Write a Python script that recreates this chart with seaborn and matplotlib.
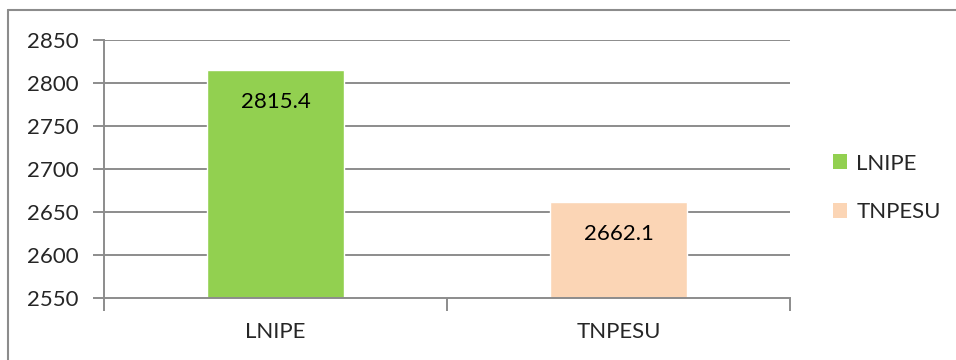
import matplotlib
matplotlib.use("Agg")
import matplotlib.pyplot as plt
import seaborn as sns
import pandas as pd
from matplotlib.lines import Line2D
from matplotlib.patches import Patch

categories = ["LNIPE", "TNPESU"]
values = [2815.4, 2662.1]
value_labels = ["2815.4", "2662.1"]
yticks = [2550, 2600, 2650, 2700, 2750, 2800, 2850]
colors = ["#92D050", "#FBD5B5"]

sns.set_theme(style="white")
plt.rcParams["font.family"] = ["Lato", "DejaVu Sans"]
FS = 16

W, H = 956, 360
fig = plt.figure(figsize=(W / 100, H / 100), dpi=100)
ax = fig.add_axes([104 / W, 1 - 298 / H, (790 - 104) / W, (298 - 40) / H])

df = pd.DataFrame({"cat": categories, "val": values})
sns.barplot(data=df, x="cat", y="val", hue="cat", palette=colors, dodge=False,
            width=0.4, ax=ax, legend=False, saturation=1)

ax.set_ylim(2550, 2850)
ax.set_xlim(-0.5, 1.5)
ax.set_yticks(yticks)
ax.set_yticklabels([str(t) for t in yticks], fontsize=FS)
ax.set_xlabel("")
ax.set_ylabel("")
grid_c = "#8C8C8C"
for t in yticks[1:]:
    ax.axhline(t, color=grid_c, lw=1.4, zorder=0)
for s in ["top", "right"]:
    ax.spines[s].set_visible(False)
for s in ["left", "bottom"]:
    ax.spines[s].set_color(grid_c)
    ax.spines[s].set_linewidth(1.4)
ax.tick_params(axis="y", length=8, width=1.4, color=grid_c, pad=10, left=True)
ax.set_xticks([0, 1])
ax.set_xticklabels(categories, fontsize=FS)
ax.set_xticks([-0.5, 0.5, 1.5], minor=True)
ax.tick_params(axis="x", which="major", length=0, pad=17)
ax.tick_params(axis="x", which="minor", length=9, width=1.4, color=grid_c, bottom=True)

for i, (v, lab) in enumerate(zip(values, value_labels)):
    ax.annotate(lab, xy=(i, v), xytext=(0, -23), textcoords="offset points",
                ha="center", va="center", fontsize=FS, color="black")

handles = [Patch(facecolor=c, edgecolor="none") for c in colors]
fig.legend(handles, categories, loc="center left", bbox_to_anchor=(833 / W, 1 - 188 / H),
           frameon=False, fontsize=FS, handlelength=0.65, handleheight=0.65,
           handletextpad=0.4, labelspacing=1.3, borderpad=0, borderaxespad=0)

fig.add_artist(Line2D([7.5 / W, 7.5 / W], [0, 1 - 9.5 / H], transform=fig.transFigure,
                      color="#8C8C8C", lw=1.5))
fig.add_artist(Line2D([7.5 / W, 1], [1 - 9.5 / H, 1 - 9.5 / H], transform=fig.transFigure,
                      color="#8C8C8C", lw=1.5))

fig.savefig("out.png", dpi=100)
